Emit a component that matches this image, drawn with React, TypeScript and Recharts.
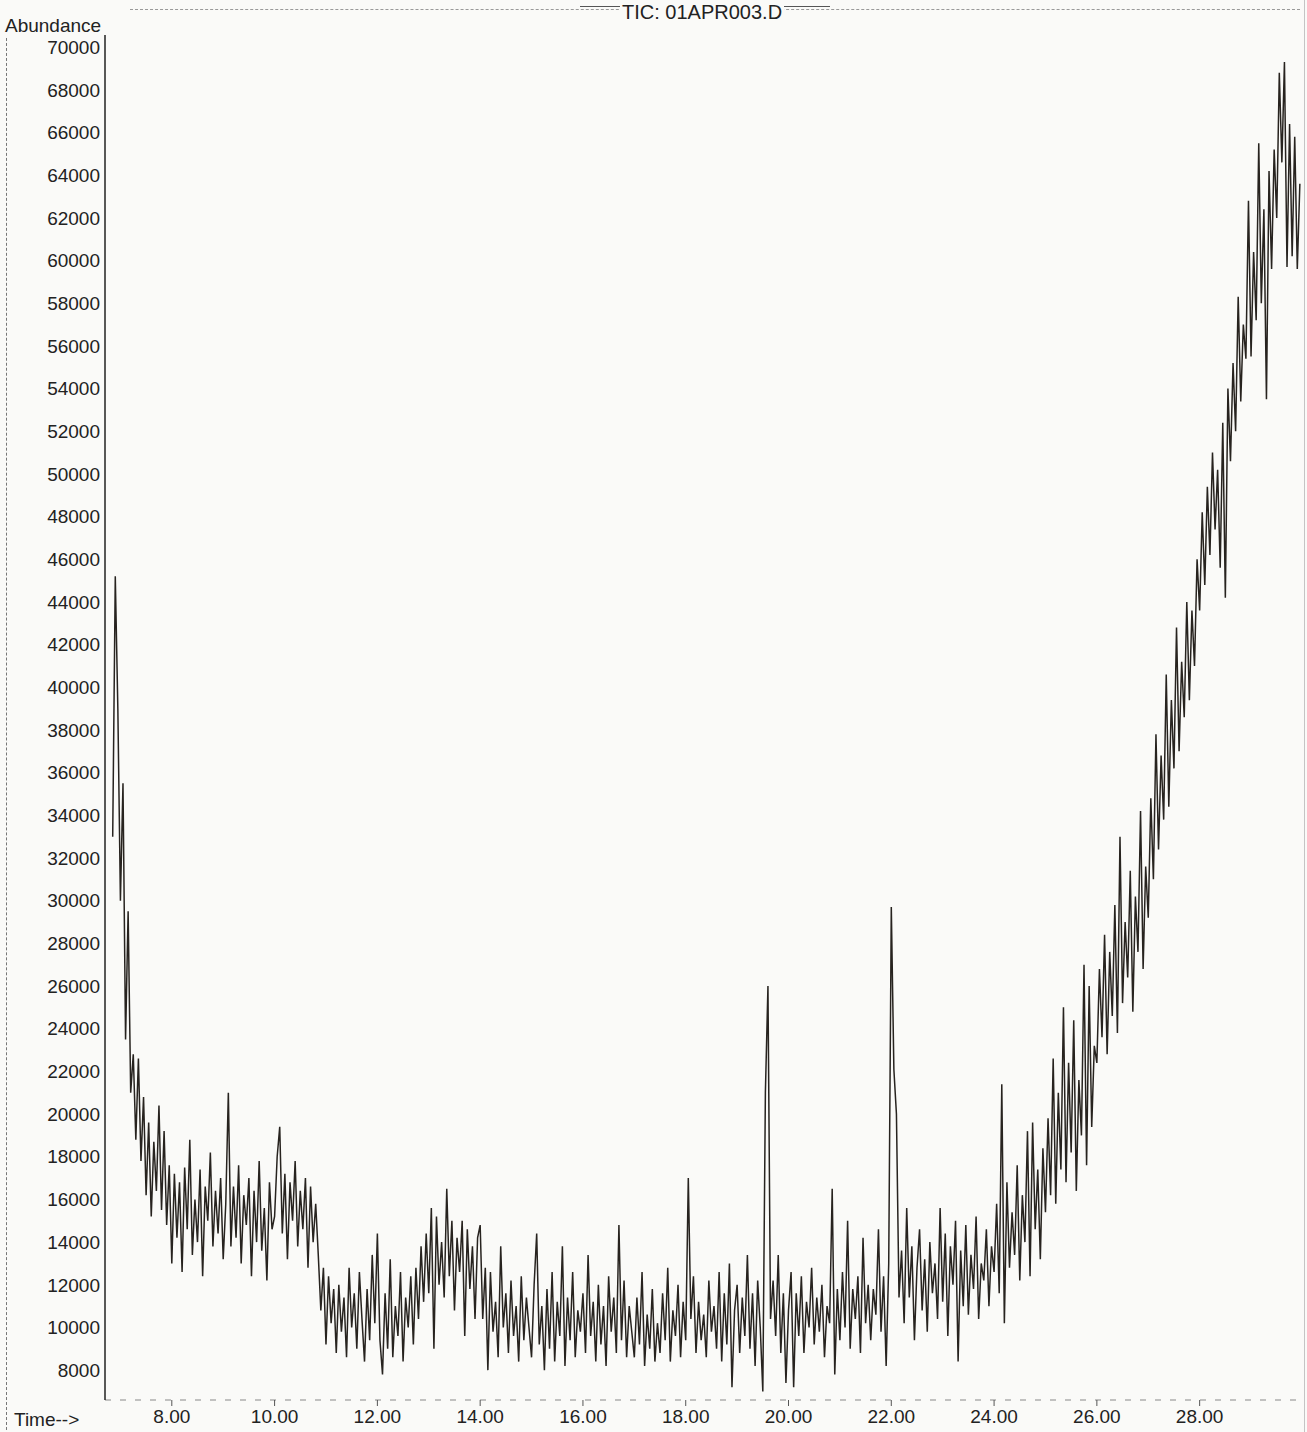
import React from "react";
import { LineChart, Line, XAxis, YAxis } from "recharts";

// Sampling of the TIC trace (minutes)
const START_MIN = 6.85;
const STEP_MIN = 0.05;

// Abundance readings, grouped by minute (20 samples per minute, 0.05 min apart)
const lead = [33000, 45200, 39000]; // 6.85 – 6.95
const min07 = [30000, 35500, 23500, 29500, 21000, 22800, 18800, 22600, 17800, 20800, 16200, 19600, 15200, 18700, 16400, 20400, 15500, 19200, 14800, 17600];
const min08 = [13000, 17200, 14200, 16800, 12600, 17500, 14600, 18800, 13400, 16000, 14000, 17400, 12400, 16600, 15000, 18200, 13800, 16400, 14400, 17000];
const min09 = [13200, 15800, 21000, 13800, 16600, 14200, 17600, 13000, 16200, 14800, 17000, 12400, 16400, 14000, 17800, 13600, 15600, 12200, 16800, 14600];
const min10 = [15200, 18000, 19400, 14400, 17200, 13200, 16800, 15000, 17800, 13800, 16400, 14600, 17000, 12800, 16600, 14000, 15800, 13400, 10800, 12800];
const min11 = [9200, 12400, 10200, 11800, 8800, 12000, 9800, 11400, 8600, 12800, 10000, 11600, 9000, 12600, 10400, 8400, 11800, 9400, 13400, 10200];
const min12 = [14400, 9400, 7800, 11600, 9000, 13200, 8600, 11000, 9600, 12600, 8400, 11400, 10000, 12400, 9200, 12800, 10400, 13800, 11200, 14400];
const min13 = [11600, 15600, 9000, 15200, 12000, 14000, 11400, 16500, 12400, 15000, 10800, 14200, 12600, 15000, 9600, 14600, 11800, 13800, 10400, 14200];
const min14 = [14800, 10400, 12800, 8000, 12600, 9800, 11200, 8600, 13800, 10000, 11600, 8800, 12200, 9600, 11000, 8400, 12400, 9400, 11400, 10000];
const min15 = [8600, 12000, 14400, 9200, 11000, 8000, 11800, 9000, 12600, 8400, 11200, 9600, 13800, 8200, 11400, 9400, 12600, 8600, 10800, 9800];
const min16 = [11600, 8800, 13400, 9600, 11200, 8400, 12000, 9200, 11000, 8200, 12400, 9800, 11400, 8800, 14800, 9400, 12200, 8600, 11000, 9800];
const min17 = [8600, 11400, 9200, 12600, 8200, 10600, 9000, 11800, 8400, 10200, 8800, 11600, 9400, 12800, 8400, 10800, 9600, 12000, 8600, 11200];
const min18 = [9400, 17000, 10400, 12400, 8800, 11200, 9400, 10600, 8600, 12200, 9800, 11000, 9000, 12600, 8400, 11600, 9200, 13000, 7200, 10800];
const min19 = [12000, 8800, 11400, 9600, 13400, 9000, 11600, 8200, 12200, 10000, 7000, 21000, 26000, 10400, 12200, 9600, 13400, 8800, 11600, 7400];
const min20 = [10800, 12600, 7200, 11600, 9600, 12400, 8800, 11200, 10000, 12800, 9200, 11400, 9800, 12000, 8600, 11000, 10200, 16500, 7800, 11800];
const min21 = [9400, 12600, 10000, 15000, 9000, 11800, 10400, 12400, 8800, 14200, 10200, 12000, 9400, 11800, 10600, 14600, 9800, 12400, 8200, 13000];
const min22 = [29700, 22100, 20000, 11400, 13600, 10200, 15600, 11400, 13800, 9400, 12800, 14600, 10800, 13200, 9800, 14000, 11600, 13000, 10400, 15600];
const min23 = [11200, 14400, 9600, 13800, 12000, 15000, 8400, 13600, 11000, 14800, 10600, 13400, 11800, 15200, 10400, 13000, 12200, 14600, 11000, 13800];
const min24 = [12600, 15800, 11600, 21400, 10200, 16800, 12800, 15400, 13400, 17600, 12200, 16200, 14000, 19200, 12400, 19600, 14600, 17400, 13200, 18400];
const min25 = [15400, 19800, 16200, 22600, 15800, 21000, 17400, 25000, 16800, 22400, 18200, 24400, 16400, 21600, 19000, 27000, 17600, 26000, 19400, 23200];
const min26 = [22400, 26800, 23600, 28400, 22800, 27600, 24600, 29800, 23800, 33000, 25200, 29000, 26400, 31400, 24800, 30200, 27600, 34200, 26800, 31600];
const min27 = [29200, 34800, 31000, 37800, 32400, 36800, 33800, 40600, 34400, 39400, 36200, 42800, 37000, 41200, 38600, 44000, 39400, 43600, 41000, 46000];
const min28 = [43600, 48200, 44800, 49400, 46200, 51000, 47400, 50200, 45600, 52400, 44200, 54000, 50600, 55200, 52000, 58300, 53400, 57000, 55400, 62800];
const min29 = [55500, 60400, 57200, 65500, 58000, 62400, 53500, 64200, 59600, 65200, 62000, 68800, 64600, 69300, 59700, 66400, 60200, 65800, 59600, 63600];

const xTicks = [8, 10, 12, 14, 16, 18, 20, 22, 24, 26, 28];
const yTicks = [8000, 10000, 12000, 14000, 16000, 18000, 20000, 22000, 24000, 26000, 28000, 30000, 32000, 34000, 36000, 38000, 40000, 42000, 44000, 46000, 48000, 50000, 52000, 54000, 56000, 58000, 60000, 62000, 64000, 66000, 68000, 70000];

const abundance = [
  ...lead, ...min07, ...min08, ...min09, ...min10, ...min11, ...min12, ...min13, ...min14,
  ...min15, ...min16, ...min17, ...min18, ...min19, ...min20, ...min21, ...min22, ...min23,
  ...min24, ...min25, ...min26, ...min27, ...min28, ...min29,
];

const data = abundance.map((v, i) => ({ t: +(START_MIN + i * STEP_MIN).toFixed(2), v }));

const FONT = "'Liberation Sans', Arial, sans-serif";
const INK = "#27231f";

export default function App() {
  return (
    <div
      style={{
        position: "absolute",
        left: 0,
        top: 0,
        width: 1307,
        height: 1432,
        background: "#fafaf8",
        fontFamily: FONT,
        overflow: "hidden",
      }}
    >
      {/* frame decorations */}
      <div style={{ position: "absolute", left: 6, top: 18, width: 0, height: 1412, borderLeft: "1px dashed #777" }} />
      <div style={{ position: "absolute", left: 1304, top: 0, width: 0, height: 1432, borderLeft: "1px solid #c4c4c4" }} />
      <div style={{ position: "absolute", left: 130, top: 9, width: 1170, height: 0, borderTop: "1px dashed #999" }} />
      <div style={{ position: "absolute", left: 580, top: 6, width: 250, height: 0, borderTop: "1px solid #555" }} />

      <div style={{ position: "absolute", left: 5, top: 15, fontSize: 19, color: "#222", background: "#fafaf8" }}>Abundance</div>
      <div style={{ position: "absolute", left: 620, top: 1, fontSize: 20, color: "#222", background: "#fafaf8", padding: "0 2px" }}>TIC: 01APR003.D</div>
      <div style={{ position: "absolute", left: 14, top: 1409, fontSize: 19, color: "#222" }}>Time--&gt;</div>

      <div style={{ position: "absolute", left: 0, top: 0 }}>
        <LineChart width={1307} height={1432} data={data} margin={{ top: 35, right: 2, bottom: 2, left: 0 }}>
          <XAxis
            dataKey="t"
            type="number"
            domain={[6.7, 30.05]}
            ticks={xTicks}
            allowDataOverflow
            tickFormatter={(v: number) => v.toFixed(2)}
            height={30}
            tickSize={6}
            tickMargin={4}
            axisLine={{ stroke: "#888", strokeDasharray: "6 9" }}
            tickLine={{ stroke: "#555" }}
            tick={{ fontSize: 19, fill: "#222", fontFamily: FONT }}
          />
          <YAxis
            type="number"
            domain={[6600, 70570]}
            ticks={yTicks}
            allowDataOverflow
            width={105}
            tickSize={0}
            tickMargin={5}
            axisLine={{ stroke: "#222", strokeWidth: 1.5 }}
            tickLine={false}
            tick={{ fontSize: 19, fill: "#222", fontFamily: FONT }}
          />
          <Line
            type="linear"
            dataKey="v"
            stroke={INK}
            strokeWidth={1.5}
            dot={false}
            isAnimationActive={false}
          />
        </LineChart>
      </div>
    </div>
  );
}
